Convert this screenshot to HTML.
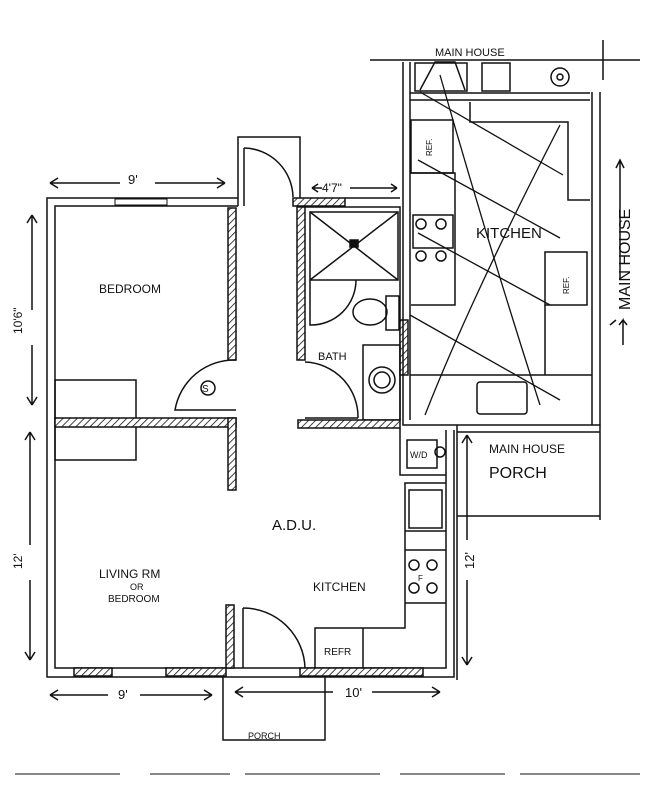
<!DOCTYPE html>
<html><head><meta charset="utf-8"><style>
html,body{margin:0;padding:0;background:#fff;}
svg{display:block;}
text{font-family:"Liberation Sans",sans-serif;fill:#111;}
</style></head><body>
<svg width="653" height="800" viewBox="0 0 653 800" xmlns="http://www.w3.org/2000/svg">
<defs>
<pattern id="h" width="5" height="5" patternUnits="userSpaceOnUse" patternTransform="rotate(45)">
<rect width="5" height="5" fill="#fff"/><line x1="0" y1="0" x2="0" y2="5" stroke="#111" stroke-width="1.6"/>
</pattern>
</defs>
<g fill="none" stroke="#111" stroke-width="1.5">
<!-- ADU outer walls -->
<path d="M238 198 H47 V677 H454 V430"/>
<path d="M238 206 H55 V668 H446 V430"/>
<rect x="115" y="199" width="52" height="6" stroke-width="1"/>
<!-- entry stoop top -->
<path d="M238 206 V137 H300 V206"/>
<path d="M244 206 V148"/><path d="M244 148 A50 50 0 0 1 293 197"/>
<!-- bath -->
<rect x="293" y="198" width="52" height="8" fill="url(#h)"/>
<path d="M345 198 H400"/><path d="M305 207 H400 V420"/>
<rect x="297" y="207" width="8" height="153" fill="url(#h)"/>
<rect x="310" y="212" width="88" height="68"/>
<path d="M310 212 L398 280 M398 212 L310 280"/>
<rect x="350" y="240" width="8" height="7" fill="#111"/>
<path d="M310 280 V325 A45 45 0 0 0 356 280"/>
<ellipse cx="370" cy="312" rx="17" ry="13"/>
<rect x="386" y="296" width="13" height="34"/>
<rect x="400" y="320" width="8" height="55" fill="url(#h)"/>
<rect x="363" y="345" width="37" height="75"/>
<circle cx="382" cy="380" r="13"/><circle cx="382" cy="380" r="8"/>
<path d="M305 362 A55 55 0 0 1 358 418"/>
<path d="M305 418 H358"/>
<rect x="298" y="420" width="102" height="8" fill="url(#h)"/>
<!-- bedroom -->
<rect x="228" y="208" width="8" height="152" fill="url(#h)"/>
<rect x="55" y="380" width="81" height="80"/>
<path d="M236 360 A60 60 0 0 0 175 410 H236"/>
<circle cx="208" cy="388" r="7"/>
<rect x="55" y="418" width="181" height="9" fill="url(#h)"/>
<rect x="228" y="418" width="8" height="72" fill="url(#h)"/>
<!-- living door -->
<rect x="226" y="605" width="8" height="63" fill="url(#h)"/>
<path d="M243 608 V668"/><path d="M243 608 A62 62 0 0 1 305 668"/>
<rect x="74" y="668" width="38" height="8" fill="url(#h)"/>
<rect x="166" y="668" width="60" height="8" fill="url(#h)"/>
<rect x="300" y="668" width="123" height="8" fill="url(#h)"/>
<!-- porch -->
<path d="M223 677 V740 H325 V677"/>
<!-- kitchen -->
<path d="M400 428 V475 H446"/>
<rect x="407" y="440" width="30" height="28"/>
<circle cx="440" cy="452" r="5"/>
<path d="M446 483 H405 V628 H315 V668"/><path d="M363 628 V668"/>
<rect x="409" y="490" width="33" height="38"/>
<path d="M405 531 H446 M405 550 H446 M405 603 H446"/>
<circle cx="414" cy="565" r="5"/><circle cx="432" cy="565" r="5"/>
<circle cx="414" cy="588" r="5"/><circle cx="432" cy="588" r="5"/>
<!-- main house -->
<path d="M370 60 H640"/><path d="M603 40 V80"/>
<path d="M403 62 V425 H600 V92"/>
<path d="M410 62 V420"/><path d="M592 92 V425"/>
<path d="M410 93 H590 M410 100 H590"/>
<rect x="415" y="63" width="52" height="28"/>
<path d="M420 90 L435 62 H455 L465 90"/>
<rect x="482" y="63" width="28" height="28"/>
<circle cx="560" cy="77" r="9"/><circle cx="560" cy="77" r="3"/>
<path d="M470 102 V122 H568 V200 H590"/>
<rect x="411" y="120" width="42" height="53"/>
<path d="M411 173 H455 V305 H411"/>
<rect x="413" y="215" width="40" height="33"/>
<circle cx="421" cy="224" r="5"/><circle cx="441" cy="224" r="5"/>
<circle cx="421" cy="256" r="5"/><circle cx="441" cy="256" r="5"/>
<rect x="545" y="252" width="42" height="53"/>
<path d="M545 305 V375"/>
<path d="M410 375 H592"/>
<rect x="477" y="382" width="50" height="32" rx="3"/>
<path d="M457 425 V520 M457 432 H600 M457 516 H600 M600 425 V520"/>
<path d="M457 520 V680"/>
<!-- big X scribbles -->
<path d="M440 75 Q490 250 540 405" stroke-width="1.3"/>
<path d="M560 125 Q470 300 425 415" stroke-width="1.3"/>
<path d="M420 92 L563 175" stroke-width="1.3"/>
<path d="M418 160 L560 238" stroke-width="1.3"/>
<path d="M418 233 L550 305" stroke-width="1.3"/>
<path d="M410 315 L560 400" stroke-width="1.3"/>
<!-- dimension lines -->
<path d="M50 183 H120 M155 183 H225 M50 183 l8 -5 M50 183 l8 5 M225 183 l-8 -5 M225 183 l-8 5"/>
<path d="M312 188 H322 M350 188 H397 M312 188 l6 -4 M312 188 l6 4 M397 188 l-6 -4 M397 188 l-6 4"/>
<path d="M32 215 V310 M32 345 V405 M32 215 l-5 8 M32 215 l5 8 M32 405 l-5 -8 M32 405 l5 -8"/>
<path d="M30 432 V545 M30 580 V660 M30 432 l-5 8 M30 432 l5 8 M30 660 l-5 -8 M30 660 l5 -8"/>
<path d="M50 695 H108 M140 695 H212 M50 695 l8 -5 M50 695 l8 5 M212 695 l-8 -5 M212 695 l-8 5"/>
<path d="M235 692 H333 M372 692 H440 M235 692 l8 -5 M235 692 l8 5 M440 692 l-8 -5 M440 692 l-8 5"/>
<path d="M467 435 V540 M467 580 V665 M467 435 l-5 8 M467 435 l5 8 M467 665 l-5 -8 M467 665 l5 -8"/>
<path d="M623 345 V320 l-4 5 M623 320 l4 5 M620 280 V160 M616 168 l4 -8 l4 8 M616 320 l-6 5"/>
<!-- bottom dashes -->
<path d="M15 774 H120 M150 774 H230 M245 774 H380 M400 774 H505 M520 774 H640" stroke-width="1"/>
</g>
<text x="128" y="184" font-size="13">9'</text>
<text x="322" y="192" font-size="12">4'7"</text>
<text x="18" y="330" font-size="12" transform="rotate(-90 22 330)">10'6"</text>
<text x="18" y="565" font-size="12" transform="rotate(-90 22 565)">12'</text>
<text x="118" y="699" font-size="13">9'</text>
<text x="345" y="697" font-size="13">10'</text>
<text x="470" y="565" font-size="13" transform="rotate(-90 474 565)">12'</text>
<text x="99" y="293" font-size="12">BEDROOM</text>
<text x="318" y="360" font-size="11">BATH</text>
<text x="202" y="392" font-size="10">S</text>
<text x="272" y="530" font-size="15">A.D.U.</text>
<text x="99" y="578" font-size="12">LIVING RM</text>
<text x="130" y="590" font-size="9">OR</text>
<text x="108" y="602" font-size="10">BEDROOM</text>
<text x="313" y="591" font-size="12">KITCHEN</text>
<text x="324" y="655" font-size="10">REFR</text>
<text x="410" y="458" font-size="9">W/D</text>
<text x="418" y="581" font-size="8">F</text>
<text x="248" y="739" font-size="9">PORCH</text>
<text x="435" y="56" font-size="11">MAIN HOUSE</text>
<text x="476" y="238" font-size="15">KITCHEN</text>
<text x="428" y="152" font-size="8" transform="rotate(-90 432 152)">REF.</text>
<text x="565" y="290" font-size="8" transform="rotate(-90 569 290)">REF.</text>
<text x="489" y="453" font-size="12">MAIN HOUSE</text>
<text x="489" y="478" font-size="16">PORCH</text>
<text x="630" y="310" font-size="16" transform="rotate(-90 630 310)">MAIN HOUSE</text>
</svg>
</body></html>
